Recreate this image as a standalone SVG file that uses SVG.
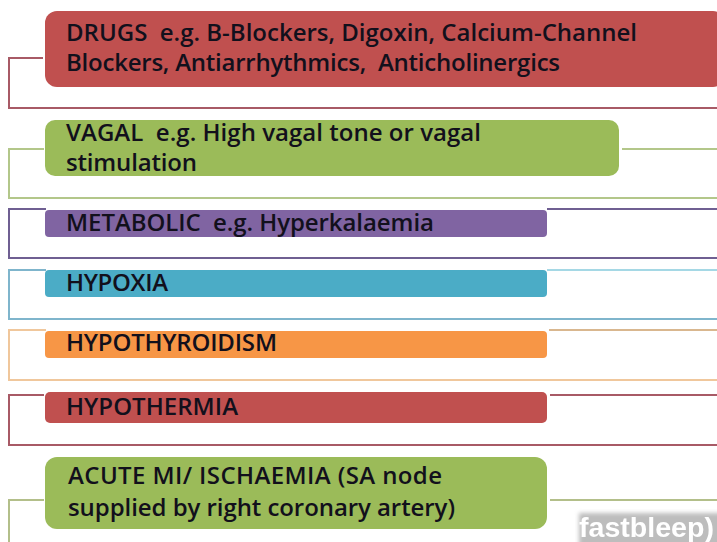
<svg xmlns="http://www.w3.org/2000/svg" width="717" height="542" viewBox="0 0 717 542">
<defs><filter id="soft" x="-5%" y="-5%" width="110%" height="110%"><feGaussianBlur stdDeviation="0.5"/></filter>
<filter id="soft2" x="-5%" y="-20%" width="110%" height="140%"><feGaussianBlur stdDeviation="2"/></filter></defs>
<style>
.t{font-family:"Open Sans","Noto Sans","Liberation Sans",sans-serif;font-weight:600;font-size:24px;fill:#12101c;white-space:pre}
.c{fill:none;stroke-width:2}
</style>
<rect width="717" height="542" fill="#fff"/>
<g id="connectors">
<path class="c" stroke="#a85a66" d="M43 58H9V108H717"/>
<path class="c" stroke="#b3c78a" d="M44 149H9V198H717"/>
<path class="c" stroke="#b3c78a" d="M622 149H717"/>
<path class="c" stroke="#6f5f92" d="M46 209H9V258H717"/>
<path class="c" stroke="#6f5f92" d="M547 209H717"/>
<path class="c" stroke="#7fb5cc" d="M46 270H9V319H717"/>
<path class="c" stroke="#a5d8e5" d="M547 270H717"/>
<path class="c" stroke="#f0c79c" d="M46 330H9V380H717"/>
<path class="c" stroke="#d9b78f" d="M549 330H717"/>
<path class="c" stroke="#a85a66" d="M44 395H9V445H717"/>
<path class="c" stroke="#a85a66" d="M550 395H717"/>
<path class="c" stroke="#b3bf8a" d="M44 500H9V542"/>
<path class="c" stroke="#b3bf8a" d="M550 500H717"/>
</g>
<g id="drugs"><rect x="45" y="11" width="680" height="76" rx="12" fill="#c0504f"/>
<text class="t" x="66" y="41" textLength="571">DRUGS  e.g. B-Blockers, Digoxin, Calcium-Channel</text>
<text class="t" x="66" y="71" textLength="494">Blockers, Antiarrhythmics,  Anticholinergics</text></g>
<g id="vagal"><rect x="45" y="120" width="574" height="56" rx="10" fill="#9bbb59"/>
<text class="t" x="66" y="141" textLength="415">VAGAL  e.g. High vagal tone or vagal</text>
<text class="t" x="66" y="171" textLength="131">stimulation</text></g>
<g id="metabolic"><rect x="45" y="210" width="502" height="27" rx="4" fill="#8064a2"/>
<text class="t" x="66" y="231" textLength="368">METABOLIC  e.g. Hyperkalaemia</text></g>
<g id="hypoxia"><rect x="45" y="270" width="502" height="27" rx="4" fill="#4bacc6"/>
<text class="t" x="66" y="291" textLength="102">HYPOXIA</text></g>
<g id="hypothyroidism"><rect x="45" y="331" width="502" height="27" rx="4" fill="#f79646"/>
<text class="t" x="66" y="351" textLength="211">HYPOTHYROIDISM</text></g>
<g id="hypothermia"><rect x="45" y="392" width="502" height="31" rx="5" fill="#c0504f"/>
<text class="t" x="66" y="415" textLength="172">HYPOTHERMIA</text></g>
<g id="acute"><rect x="45" y="457" width="502" height="72" rx="12" fill="#9bbb59"/>
<text class="t" x="68" y="484" textLength="374">ACUTE MI/ ISCHAEMIA (SA node</text>
<text class="t" x="68" y="516" textLength="387">supplied by right coronary artery)</text></g>
<g id="watermark"><rect x="579" y="513" width="150" height="34" fill="#bdbdbd" filter="url(#soft2)"/>
<text x="579" y="537" font-family="Liberation Sans,sans-serif" font-weight="700" font-size="28" textLength="135" lengthAdjust="spacingAndGlyphs" fill="#fff" filter="url(#soft)">fastbleep)</text></g>
</svg>
